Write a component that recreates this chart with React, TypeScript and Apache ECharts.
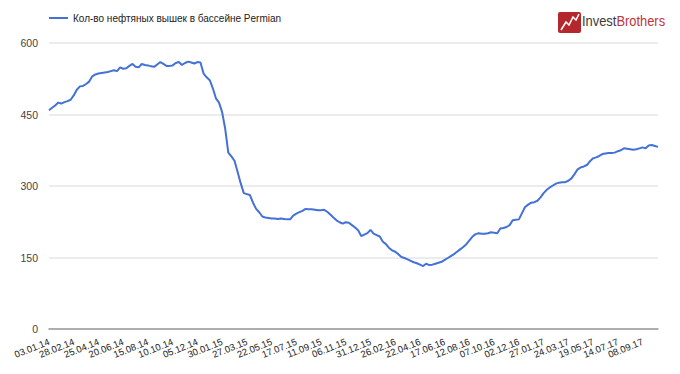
import React, { useEffect, useRef } from "react";
import * as echarts from "echarts";

const START_DATE = "2014-01-03";
const WEEK_COUNT = 198;
const LABEL_EVERY = 8;
// Report dates that were shifted by holidays (index -> label)
const DATE_OVERRIDES: Record<number, string> = { 104: "31.12.15" };

const seriesName = "Кол-во нефтяных вышек в бассейне Permian";

const rigCounts: number[] = [
  459, 464, 469, 475, 473, 476, 478, 481, 490, 502,
  509, 510, 514, 519, 530, 534, 536, 537, 538, 539,
  541, 543, 541, 549, 546, 547, 552, 556, 550, 549,
  556, 554, 553, 551, 550, 555, 560, 556, 552, 552,
  553, 558, 560, 554, 558, 561, 559, 557, 560, 559,
  536, 528, 522, 505, 484, 475, 455, 420, 370, 362,
  353, 330, 306, 285, 283, 281, 265, 252, 245, 236,
  234, 233, 232, 232, 231, 232, 231, 230, 230, 238,
  242, 245, 248, 252, 251, 251, 250, 249, 249, 250,
  246, 240, 234, 228, 224, 221, 224, 223, 218, 213,
  207, 195, 198, 201, 208, 200, 197, 194, 183, 178,
  170, 165, 162, 157, 151, 149, 146, 143, 140, 138,
  135, 132, 137, 134, 135, 137, 139, 141, 145, 149,
  153, 157, 162, 167, 172, 178, 186, 194, 199, 201,
  200, 200, 201, 203, 202, 201, 211, 212, 214, 218,
  228, 229, 230, 243, 256, 261, 265, 266, 269, 276,
  285, 292, 297, 301, 305, 307, 308, 308, 311, 316,
  325, 335, 339, 341, 344, 352, 358, 360, 363, 367,
  368, 369, 369, 370, 373, 375, 379, 378, 377, 376,
  377, 379, 381, 379, 385, 386, 384, 382,
];

const yTicks = { min: 0, max: 600, interval: 150 };

function buildWeeks(start: string, count: number): string[] {
  const out: string[] = [];
  const base = new Date(start + "T00:00:00Z").getTime();
  for (let i = 0; i < count; i++) {
    if (DATE_OVERRIDES[i]) {
      out.push(DATE_OVERRIDES[i]);
      continue;
    }
    const d = new Date(base + i * 7 * 86400000);
    const dd = String(d.getUTCDate()).padStart(2, "0");
    const mm = String(d.getUTCMonth() + 1).padStart(2, "0");
    const yy = String(d.getUTCFullYear() % 100).padStart(2, "0");
    out.push(`${dd}.${mm}.${yy}`);
  }
  return out;
}

const categories = buildWeeks(START_DATE, WEEK_COUNT);

export default function App() {
  const ref = useRef<HTMLDivElement>(null);
  useEffect(() => {
    if (!ref.current) return;
    const chart = echarts.init(ref.current, undefined, { renderer: "svg" });
    const font = "Arial, 'Liberation Sans', sans-serif";
    chart.setOption({
      animation: false,
      backgroundColor: "#ffffff",
      textStyle: { fontFamily: font },
      legend: {
        left: 49,
        top: 13,
        padding: 0,
        icon: "rect",
        itemWidth: 19,
        itemHeight: 2,
        itemGap: 10,
        textStyle: { fontSize: 10, color: "#222222", fontFamily: font },
        data: [seriesName],
      },
      grid: { left: 49, right: 22, top: 43, bottom: 45, containLabel: false },
      xAxis: {
        type: "category",
        boundaryGap: false,
        data: categories,
        axisTick: { show: false },
        axisLine: { lineStyle: { color: "#999999", width: 1.5 } },
        axisLabel: {
          interval: 0,
          formatter: (v: string, i: number) => (i % LABEL_EVERY === 0 ? v : ""),
          hideOverlap: false,
          rotate: 22,
          fontSize: 9.5,
          color: "#222222",
          margin: 12,
          fontFamily: font,
        },
        splitLine: { show: false },
      },
      yAxis: {
        type: "value",
        min: yTicks.min,
        max: yTicks.max,
        interval: yTicks.interval,
        axisLine: { show: false },
        axisTick: { show: false },
        axisLabel: { fontSize: 10.5, color: "#444444", margin: 11, fontFamily: font },
        splitLine: { lineStyle: { color: "#e6e6e6", width: 1.5 } },
      },
      series: [
        {
          name: seriesName,
          type: "line",
          data: rigCounts,
          showSymbol: false,
          symbol: "none",
          color: "#4371d6",
          lineStyle: { color: "#4371d6", width: 2 },
        },
      ],
      graphic: [
        {
          type: "rect",
          shape: { x: 558, y: 12, width: 23, height: 21, r: 2 },
          style: { fill: "#b3272d" },
        },
        {
          type: "polyline",
          shape: {
            points: [
              [561, 30],
              [566, 22],
              [569, 25],
              [573, 17],
              [576, 20],
              [579, 14],
            ],
          },
          style: { stroke: "#ffffff", lineWidth: 1.6, fill: "none" },
        },
        {
          type: "text",
          x: 582,
          y: 28,
          scaleX: 0.86,
          style: {
            text: "{a|Invest}{b|Brothers}",
            verticalAlign: "bottom",
            rich: {
              a: { fontSize: 15, fill: "#3a3a3a", fontFamily: font },
              b: { fontSize: 15, fill: "#c0343a", fontFamily: font },
            },
          },
        },
      ],
    });
    return () => chart.dispose();
  }, []);
  return (
    <div
      ref={ref}
      style={{ position: "absolute", left: 0, top: 0, width: 680, height: 374 }}
    />
  );
}
